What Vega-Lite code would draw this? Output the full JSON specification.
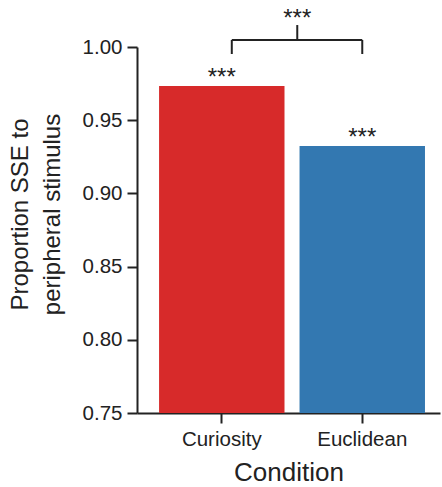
{
  "$schema": "https://vega.github.io/schema/vega-lite/v6.json",
  "width": 303,
  "height": 366,
  "autosize": {"type": "none"},
  "padding": {"left": 137, "top": 47, "right": 2, "bottom": 74},
  "background": "white",
  "config": {
    "view": {"stroke": null},
    "font": "Liberation Sans",
    "axis": {"grid": false, "domainColor": "#222", "tickColor": "#222", "domainWidth": 2, "tickWidth": 2, "tickSize": 10, "labelColor": "#222", "titleColor": "#222", "labelFont": "Liberation Sans", "titleFont": "Liberation Sans", "titleFontWeight": "normal"}
  },
  "datasets": {
    "bars": [
      {"Condition": "Curiosity", "proportion": 0.9734, "sig": "***"},
      {"Condition": "Euclidean", "proportion": 0.9324, "sig": "***"}
    ],
    "bracketLeft": [
      {"Condition": "Curiosity", "lo": 0.9952, "hi": 1.0048}
    ],
    "bracketRight": [
      {"Condition": "Euclidean", "lo": 0.9952, "hi": 1.0048}
    ],
    "bracketH": [
      {"from": "Curiosity", "to": "Euclidean", "level": 1.0048}
    ],
    "spike": [
      {"Condition": "Euclidean", "lo": 1.0048, "hi": 1.015}
    ],
    "topSig": [
      {"Condition": "Euclidean", "level": 1.0143, "sig": "***"}
    ]
  },
  "encoding": {
    "x": {
      "field": "Condition", "type": "nominal",
      "scale": {"domain": ["Curiosity", "Euclidean"], "paddingInner": 0.107, "paddingOuter": 0.132, "align": 0.595},
      "axis": {"labelAngle": 0, "labelFontSize": 20.5, "labelBaseline": "alphabetic", "labelPadding": 22, "title": "Condition", "titleFontSize": 26, "titleBaseline": "alphabetic", "titleY": 67}
    }
  },
  "layer": [
    {
      "data": {"name": "bars"},
      "mark": {"type": "bar"},
      "encoding": {
        "y": {
          "field": "proportion", "type": "quantitative",
          "scale": {"domain": [0.75, 1.0], "nice": false, "zero": false},
          "axis": {"values": [0.75, 0.8, 0.85, 0.9, 0.95, 1.0], "format": ".2f", "labelFontSize": 20.5, "labelPadding": 5, "title": ["Proportion SSE to", "peripheral stimulus"], "titleFontSize": 24, "titleLineHeight": 32, "titleBaseline": "alphabetic", "titleAngle": -90, "titleAlign": "center", "titleX": -110, "titleY": 167}
        },
        "y2": {"datum": 0.75},
        "color": {"field": "Condition", "type": "nominal", "scale": {"domain": ["Curiosity", "Euclidean"], "range": ["#d72a2a", "#3378b1"]}, "legend": null}
      }
    },
    {
      "data": {"name": "bars"},
      "mark": {"type": "text", "fontSize": 24, "baseline": "alphabetic", "dy": -1, "color": "#222"},
      "encoding": {
        "y": {"field": "proportion", "type": "quantitative"},
        "text": {"field": "sig"}
      }
    },
    {
      "data": {"name": "bracketLeft"},
      "mark": {"type": "rule", "strokeWidth": 2, "color": "#222", "xOffset": 10},
      "encoding": {
        "y": {"field": "lo", "type": "quantitative"},
        "y2": {"field": "hi"}
      }
    },
    {
      "data": {"name": "bracketRight"},
      "mark": {"type": "rule", "strokeWidth": 2, "color": "#222"},
      "encoding": {
        "y": {"field": "lo", "type": "quantitative"},
        "y2": {"field": "hi"}
      }
    },
    {
      "data": {"name": "bracketH"},
      "mark": {"type": "rule", "strokeWidth": 2, "color": "#222", "xOffset": 10},
      "encoding": {
        "x": {"field": "from", "type": "nominal"},
        "x2": {"field": "to"},
        "y": {"field": "level", "type": "quantitative"}
      }
    },
    {
      "data": {"name": "spike"},
      "mark": {"type": "rule", "strokeWidth": 2, "color": "#222", "xOffset": -65},
      "encoding": {
        "y": {"field": "lo", "type": "quantitative"},
        "y2": {"field": "hi"}
      }
    },
    {
      "data": {"name": "topSig"},
      "mark": {"type": "text", "fontSize": 24, "baseline": "alphabetic", "color": "#222", "xOffset": -65},
      "encoding": {
        "y": {"field": "level", "type": "quantitative"},
        "text": {"field": "sig"}
      }
    }
  ]
}
